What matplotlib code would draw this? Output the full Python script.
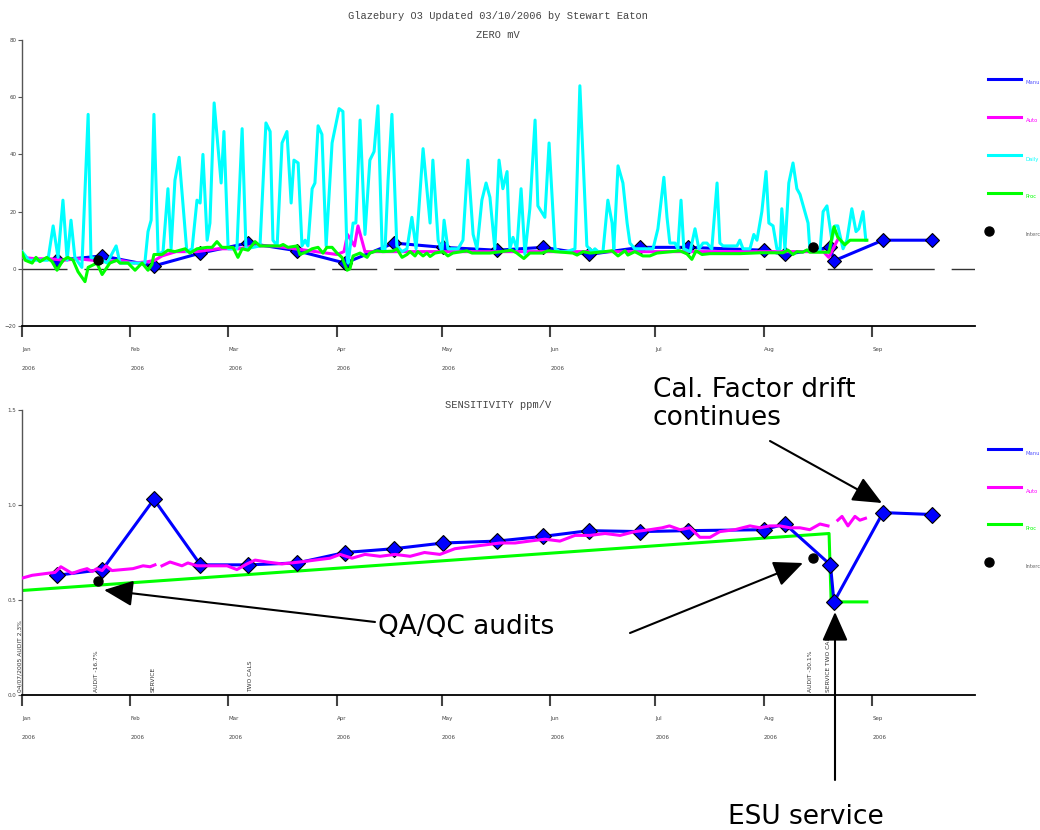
import matplotlib
matplotlib.use("Agg")
import matplotlib.pyplot as plt
from matplotlib.lines import Line2D
import numpy as np

W, H = 1040, 830

# x positions are days since 1 Jan 2006
MONTHS = ["Jan", "Feb", "Mar", "Apr", "May", "Jun", "Jul", "Aug", "Sep"]
MONTH_START = [0, 31, 59, 90, 120, 151, 181, 212, 243]
X_END = 272.3

# manual calibrations (blue diamonds)
manual_day = [10, 23, 37.7, 51, 64.6, 78.6, 92.3, 106.3, 120.3, 135.7,
              149, 162, 176.6, 190.3, 212, 218, 231, 232, 246, 260]
manual_zero = [3, 4.5, 1, 5.5, 9, 6.3, 2, 9, 7.5, 6.5,
               7.5, 5, 7.5, 7.5, 6.5, 5, 7.5, 2.8, 10, 10]
manual_sens = [0.63, 0.66, 1.03, 0.685, 0.685, 0.695, 0.75, 0.77, 0.80, 0.81,
               0.835, 0.865, 0.86, 0.865, 0.87, 0.90, 0.685, 0.49, 0.96, 0.95]

# intercept checks (black dots)
interc_day = [21.7, 226]
interc_zero = [3.0, 7.7]
interc_sens = [0.60, 0.72]

# daily zero readings (cyan)
daily_zero = [
    (0, 6), (2, 3), (5, 3), (7.4, 3), (8.9, 15), (10.3, 4), (11.7, 24), (12.9, 3),
    (14, 17), (15.1, 4), (17.1, 0.5), (18.9, 54), (19.7, 4), (22.9, 3), (24.3, 2),
    (26.9, 8), (28, 2), (31.4, 2), (35.1, 2), (36, 13), (36.9, 17), (37.7, 54),
    (38.9, 5), (40.3, 6), (41.7, 28), (42.6, 7), (43.7, 31), (44.9, 39), (45.7, 27),
    (47.1, 6), (48.6, 7), (50, 24), (50.9, 23), (51.7, 40), (52.9, 10), (53.7, 16),
    (54.9, 58), (56.9, 30), (57.7, 48), (58.9, 7), (61.4, 7), (62.9, 49), (64, 7),
    (68, 8), (69.7, 51), (70.9, 48), (71.7, 10), (72.9, 8), (74.3, 44), (75.7, 48),
    (76.9, 23), (77.7, 38), (78.9, 37), (80, 8), (80.9, 10), (81.7, 8), (82.9, 28),
    (83.7, 30), (84.6, 50), (85.7, 47), (86.9, 8), (88.6, 44), (90.6, 56), (91.7, 55),
    (92.9, 4), (93.2, 2), (94.6, 16), (95.4, 16), (96.6, 52), (98, 12), (99.4, 38),
    (100.6, 41), (101.7, 57), (102.9, 7), (103.7, 6), (104.6, 31), (105.7, 54),
    (107.1, 8), (108.6, 6), (110, 7), (111.4, 18), (112.6, 7), (114.6, 42),
    (116.6, 16), (117.4, 38), (118.9, 10), (120, 6), (120.6, 17), (121.7, 7),
    (124.6, 7), (126, 10), (127.4, 38), (128.9, 12), (130, 7), (131.4, 24),
    (132.6, 30), (133.7, 25), (135.1, 7), (136.3, 38), (137.4, 28), (138.6, 34),
    (139.4, 7), (140.3, 11), (141.4, 7), (142.6, 28), (143.7, 5), (145.1, 21),
    (146.6, 52), (147.4, 22), (149.4, 18), (150.6, 44), (152.3, 7), (153.7, 6),
    (155.7, 6), (158, 7), (159.4, 64), (161.4, 8), (162.9, 6), (163.7, 7),
    (164.6, 6), (166, 6), (167.4, 24), (168.6, 16), (169.1, 7), (170.3, 36),
    (171.7, 30), (172.9, 16), (173.7, 9), (175.1, 7), (180.3, 7), (181.7, 14),
    (183.4, 32), (184.3, 18), (185.1, 9), (186.6, 9), (187.4, 7), (188.3, 24),
    (189.1, 7), (190.9, 6), (192.3, 14), (193.4, 7), (194.6, 9), (195.7, 9),
    (197.1, 7), (198.6, 30), (199.4, 9), (200.3, 8), (204.3, 8), (205.1, 10),
    (206, 7), (208, 7), (209.1, 12), (210, 10), (211.4, 20), (212.6, 34),
    (213.4, 16), (214.6, 15), (215.7, 7), (216.6, 7), (217.1, 21), (218, 7),
    (219.1, 30), (220.3, 37), (221.4, 28), (222.3, 26), (224.6, 16), (225.1, 7),
    (228, 6), (228.9, 20), (230, 22), (231.4, 10), (232.3, 15), (233.1, 15),
    (234.6, 7), (235.7, 10), (237.1, 21), (238.3, 13), (239.1, 14), (240.3, 20),
    (241.1, 10),
]

# processed zero (green)
proc_zero = [
    (0, 5.6), (0.9, 3), (2.9, 2), (4, 4), (5.1, 2.5), (7.1, 4), (8.6, 2.5), (10, -0.5),
    (11.7, 3), (13.1, 4), (14.6, 3), (16, -1), (18, -4.5), (18.9, 0.5), (21.4, 2),
    (22.9, -2), (25.1, 2), (27.1, 3), (28, 2), (30.3, 2), (32.3, -0.5), (34.3, 2),
    (36, -0.5), (37.1, 1.5), (37.7, 5), (40, 5), (41.7, 6.5), (43.7, 6), (46.6, 7),
    (48, 5.5), (50, 7), (52.9, 7.5), (54.3, 7.5), (55.7, 9.5), (57.1, 7.5), (60.3, 7.5),
    (61.7, 4), (62.9, 7), (64.6, 6.5), (66.6, 9.5), (68, 8), (73.7, 8), (74.6, 8.5),
    (76, 7.5), (78.6, 8), (79.4, 5), (81.4, 6), (82.9, 7), (84.6, 7.5), (86, 5.5),
    (87.1, 7.5), (88.6, 7.5), (90, 5.5), (91.4, 4), (92.9, -0.5), (93.7, 0), (94.6, 4.5),
    (96.6, 5.5), (98.6, 4), (99.4, 5.5), (101.4, 6.3), (103.1, 6), (106, 6.2), (107.1, 7),
    (108.6, 4), (110, 5), (110.9, 6), (112.3, 4.5), (113.1, 6), (114.6, 4.5), (115.7, 5.5),
    (116.6, 4.3), (118, 5.5), (120.3, 6), (121.7, 4.5), (123.1, 5.5), (127.1, 6.3),
    (128.6, 5.5), (133.7, 5.5), (140, 6.5), (141.4, 5.5), (143.4, 3.6), (145.1, 5.5),
    (148.6, 5.5), (150.3, 6.3), (152.3, 6), (157.4, 5.5), (158.6, 4.8), (160.3, 6),
    (162.3, 5.5), (166.6, 6), (168.6, 6.3), (170.3, 4.5), (172.3, 6.3), (173.1, 4.8),
    (175.1, 6), (177.4, 4.5), (179.4, 4.5), (181.4, 5.5), (188, 6.3), (190, 5.2),
    (191.4, 3.3), (192.6, 6.3), (194.3, 5), (196.6, 5.3), (205.1, 5.3), (210.9, 5.6),
    (217.4, 5.6), (218.9, 6.5), (220.3, 5), (221.4, 6), (223.1, 5.8), (224.3, 6.6),
    (225.1, 5.8), (230.6, 5.8), (232, 14.7), (233.1, 11), (235.1, 8.4), (236.6, 10),
    (241.4, 10),
]

# automatic zero (magenta), mostly hidden under the green
auto_zero = [
    (0, 4), (4, 3.5), (8, 3.5), (12, 3), (16, 3.5), (20, 3), (24, 2.5), (28, 3),
    (32, 2), (36, 2.5), (38, 3), (40, 4.5), (44, 6), (50, 6), (56, 7), (62, 7),
    (66, 8), (72, 8), (78, 7), (84, 6), (90, 5), (92, 6), (93, 12), (95, 8),
    (96, 15), (98, 6), (104, 6), (120, 6), (140, 6), (160, 6), (180, 6), (200, 6),
    (220, 6), (229, 6), (230.5, 4), (233, 10),
]

# automatic sensitivity (magenta), nan = gap in record
auto_sens = [
    (0, 0.615), (2.9, 0.63), (7.1, 0.64), (9.4, 0.645), (11.1, 0.675), (14.3, 0.64),
    (16.6, 0.655), (18.6, 0.665), (20, 0.65), (21.4, 0.665), (22.9, 0.655), (24, 0.68),
    (25.7, 0.655), (31.7, 0.665), (34.6, 0.68), (36.6, 0.675), (38, 0.685), (39, np.nan),
    (40, 0.68), (42.3, 0.70), (45.7, 0.68), (47.4, 0.695), (50, 0.68), (55.7, 0.68),
    (58.6, 0.68), (61.4, 0.66), (64.3, 0.69), (66.6, 0.71), (70, 0.70), (74.3, 0.69),
    (79.4, 0.70), (83.7, 0.71), (88, 0.72), (90.9, 0.74), (94.3, 0.72), (98, 0.74),
    (102.3, 0.73), (106.6, 0.74), (110.9, 0.73), (115, 0.75), (119.4, 0.74),
    (123.7, 0.77), (128, 0.78), (132.3, 0.79), (136.6, 0.80), (140.9, 0.80),
    (145, 0.81), (149.4, 0.82), (153.7, 0.81), (158, 0.84), (162.3, 0.84),
    (166.6, 0.85), (170.9, 0.84), (175.1, 0.86), (179.4, 0.87), (182.9, 0.88),
    (185, 0.89), (188, 0.87), (190.9, 0.88), (193.7, 0.83), (196.6, 0.83),
    (199.4, 0.86), (203.7, 0.87), (208, 0.89), (210.9, 0.88), (213.7, 0.89),
    (216.6, 0.89), (219.4, 0.88), (222.3, 0.88), (225.1, 0.87), (228, 0.90),
    (230.3, 0.89), (231.5, np.nan), (233.1, 0.92), (234.3, 0.94), (236, 0.89),
    (238, 0.94), (239.4, 0.92), (241, 0.93),
]

# processed sensitivity (green): linear drift then step after ESU service
proc_sens = [(0, 0.55), (230.6, 0.85), (231.2, 0.49), (241.4, 0.49)]

sens_notes = [
    (-0.6, "04/07/2005 AUDIT 2.3%"), (21.4, "AUDIT -16.7%"), (37.4, "SERVICE"),
    (65.3, "TWO CALS"), (225.4, "AUDIT -30.1%"), (230.3, "SERVICE TWO CAL"),
]

# legend names as far as they show before the page edge
legend_zero = ["Manu", "Auto", "Daily", "Proc", "Interc"]
legend_sens = ["Manu", "Auto", "Proc", "Interc"]

BLUE, MAGENTA, CYAN, GREEN = "#0000ff", "#ff00ff", "#00ffff", "#00ff00"


def px(x, y):
    return x / W, 1 - y / H


def xy(pairs):
    arr = np.array(pairs, dtype=float)
    return arr[:, 0], arr[:, 1]


def style_axes(ax, years_until):
    ax.set_xlim(0, X_END)
    for side in ("top", "right"):
        ax.spines[side].set_visible(False)
    ax.spines["left"].set_color("#555555")
    ax.spines["left"].set_linewidth(1.0)
    ax.spines["bottom"].set_color("black")
    ax.spines["bottom"].set_linewidth(1.3)
    ax.set_xticks(MONTH_START)
    ax.set_xticklabels([])
    ax.tick_params(axis="x", direction="out", length=8, width=1.5, color="#444444")
    ax.tick_params(axis="y", direction="out", length=3, width=0.8, color="#555555",
                   labelsize=4, labelcolor="#444444", pad=1)
    trans = ax.get_xaxis_transform()
    for i, (d, m) in enumerate(zip(MONTH_START, MONTHS)):
        ax.annotate(m, xy=(d, 0), xycoords=trans, xytext=(0, -23),
                    textcoords="offset pixels", ha="left", va="center",
                    fontsize=4, color="#444444", annotation_clip=False)
        if i < years_until:
            ax.annotate("2006", xy=(d, 0), xycoords=trans, xytext=(0, -42),
                        textcoords="offset pixels", ha="left", va="center",
                        fontsize=4, color="#444444", annotation_clip=False)


def draw_legend(fig, labels, colors, ys):
    for label, (color, textcolor), y in zip(labels, colors, ys):
        if color == "black":
            fig.add_artist(Line2D([989 / W], [1 - y / H], marker="o", ms=6.5,
                                  color="black", ls="none"))
        else:
            fig.add_artist(Line2D([988 / W, 1021 / W], [1 - y / H] * 2,
                                  color=color, lw=2.2))
        fig.text(1026 / W, 1 - (y + 4) / H, label, fontsize=3.8, color=textcolor,
                 va="center", ha="left")


fig = plt.figure(figsize=(W / 100, H / 100), dpi=100)
mono = "Liberation Mono"

# ---------------- ZERO ----------------
top = fig.add_axes([22 / W, 1 - 326 / H, (975 - 22) / W, (326 - 40) / H])
style_axes(top, years_until=6)
top.set_ylim(-20, 80)
top.set_yticks([-20, 0, 20, 40, 60, 80])
top.axhline(0, color="#333333", lw=1, linestyle=(0, (32.4, 12.2)), zorder=1)

top.plot(manual_day, manual_zero, color=BLUE, lw=2.2, marker="D", ms=7.5,
         mec="black", mew=0.8, zorder=2)
d, v = xy(auto_zero)
top.plot(d, v, color=MAGENTA, lw=2.2, zorder=3)
d, v = xy(daily_zero)
top.plot(d, v, color=CYAN, lw=2.2, zorder=4)
d, v = xy(proc_zero)
top.plot(d, v, color=GREEN, lw=2.2, zorder=5)
top.plot(interc_day, interc_zero, "o", color="black", ms=6.5, zorder=6)

fig.text(498 / W, 1 - 16 / H, "Glazebury O3 Updated 03/10/2006 by Stewart Eaton",
         family=mono, fontsize=7.5, color="#444444", ha="center", va="center")
fig.text(498 / W, 1 - 35 / H, "ZERO mV", family=mono, fontsize=7.5,
         color="#444444", ha="center", va="center")

draw_legend(fig, legend_zero,
            [(BLUE, "#5555ff"), (MAGENTA, MAGENTA), (CYAN, CYAN),
             (GREEN, GREEN), ("black", "#666666")],
            [79, 117, 155, 193, 231])

# ---------------- SENSITIVITY ----------------
bot = fig.add_axes([22 / W, 1 - 695 / H, (975 - 22) / W, (695 - 410) / H])
style_axes(bot, years_until=9)
bot.set_ylim(0, 1.5)
bot.set_yticks([0, 0.5, 1.0, 1.5])
bot.set_yticklabels(["0.0", "0.5", "1.0", "1.5"])

d, v = xy(proc_sens)
bot.plot(d, v, color=GREEN, lw=2.2, zorder=2)
bot.plot(manual_day, manual_sens, color=BLUE, lw=2.2, marker="D", ms=8,
         mec="black", mew=0.8, zorder=3)
d, v = xy(auto_sens)
bot.plot(d, v, color=MAGENTA, lw=2.2, zorder=4)
bot.plot(interc_day, interc_sens, "o", color="black", ms=6.5, zorder=5)

for day, note in sens_notes:
    bot.text(day, 0.015, note, rotation=90, ha="center", va="bottom",
             fontsize=4.3, color="#333333")

fig.text(498 / W, 1 - 405 / H, "SENSITIVITY ppm/V", family=mono, fontsize=7.5,
         color="#444444", ha="center", va="center")

draw_legend(fig, legend_sens,
            [(BLUE, "#5555ff"), (MAGENTA, MAGENTA), (GREEN, GREEN),
             ("black", "#666666")],
            [449, 487, 524, 562])

# ---------------- call-outs ----------------
fig.text(*px(653, 377), "Cal. Factor drift\ncontinues", fontsize=19,
         ha="left", va="top", linespacing=1.1)
fig.text(*px(378, 627), "QA/QC audits", fontsize=19, ha="left", va="center")
fig.text(*px(728, 817), "ESU service", fontsize=19, ha="left", va="center")

arrow = dict(arrowstyle="-|>,head_length=0.9,head_width=0.4", mutation_scale=20,
             color="black", lw=1.5, shrinkA=0, shrinkB=0)
for tail, head in [((770, 441), (882, 503)), ((375, 622), (104, 590)),
                   ((630, 633), (803, 563)), ((835, 780), (835, 612))]:
    bot.annotate("", xy=px(*head), xycoords="figure fraction",
                 xytext=px(*tail), textcoords="figure fraction",
                 arrowprops=arrow, annotation_clip=False)

fig.savefig("out.png", dpi=100)
